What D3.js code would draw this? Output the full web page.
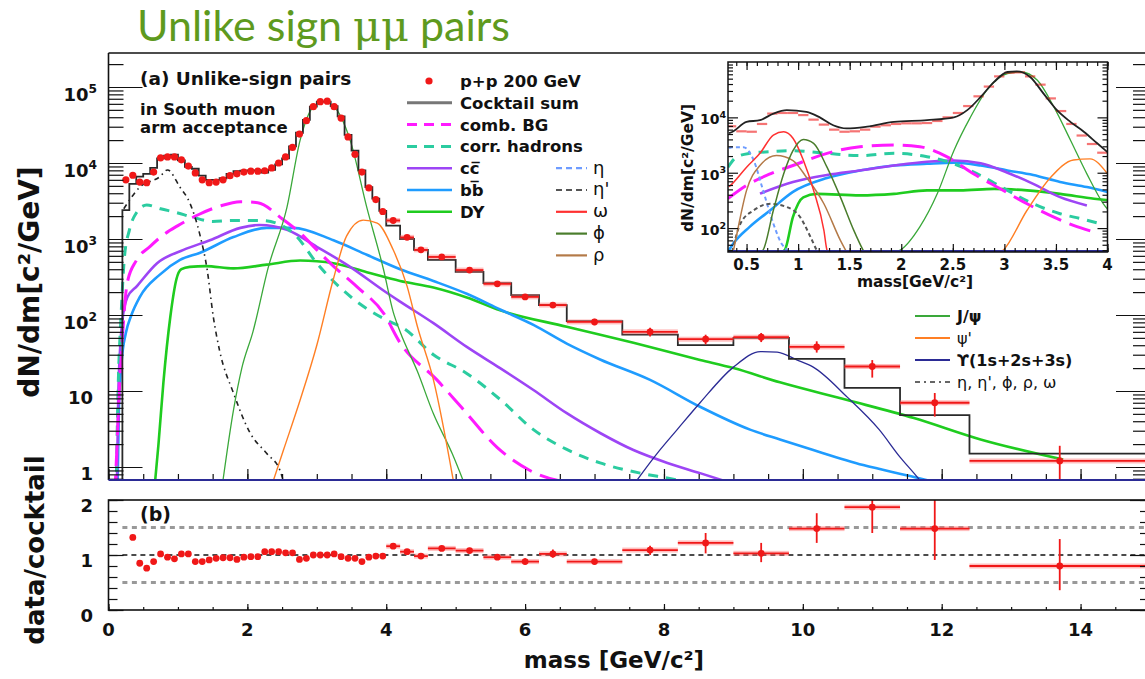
<!DOCTYPE html>
<html>
<head>
  <meta charset="utf-8">
  <script src="https://d3js.org/d3.v7.min.js"></script>
  <title>Unlike sign pairs</title>
  <style>
    body { margin: 0; background: #fff; }
    svg text { font-family: "DejaVu Sans", sans-serif; font-weight: bold; fill: #111; }
    .title { font-family: Lato, "Open Sans", sans-serif; font-weight: normal; fill: #5e9a1e; }
    .thin { font-weight: normal; }
  </style>
</head>
<body>
<div id="plot"></div>
<script type="text/javascript">

// ---------- data ----------

// p+p 200 GeV, fine 0.1 GeV bins
var fineMass = [0.25,0.35,0.45,0.55,0.65,0.75,0.85,0.95,1.05,1.15,1.25,1.35,1.45,1.55,1.65,1.75,1.85,1.95,
  2.05,2.15,2.25,2.35,2.45,2.55,2.65,2.75,2.85,2.95,3.05,3.15,3.25,3.35,3.45,3.55,3.65,3.75,3.85,3.95];
var fineYield = [6000,6900,5600,5500,7600,11700,12000,12000,11000,9100,7400,6000,5500,5600,6000,6800,7200,7600,
  7800,7800,7900,8600,10000,12000,16000,24000,36000,55000,64000,65000,55000,39000,22000,13000,7600,4700,3300,2300];

// p+p 200 GeV, wide bins
var wideLo = [4.0,4.2,4.4,4.6,5.0,5.4,5.8,6.2,6.6,7.4,8.2,9.0,9.8,10.6,11.4,12.4];
var wideHi = [4.2,4.4,4.6,5.0,5.4,5.8,6.2,6.6,7.4,8.2,9.0,9.8,10.6,11.4,12.4,15.0];
var wideMass = [4.1,4.3,4.5,4.8,5.2,5.6,6.0,6.4,7.0,7.8,8.6,9.4,10.2,11.0,11.9,13.7];
var wideYield = [1750,1050,720,580,390,257,173,135,81,60,48,51,38,21,7,1.2];
var wideDown = [1680,1000,690,555,370,243,162,125,73,52,41,44,32,15,4.6,0.5];
var wideUp = [1820,1100,750,605,410,271,184,146,89,68,55,58,45,25.5,9.4,1.9];

// cocktail sum histogram
var histEdges = [0.2,0.3,0.4,0.5,0.6,0.7,0.8,0.9,1.0,1.1,1.2,1.3,1.4,1.5,1.6,1.7,1.8,1.9,2.0,2.1,2.2,2.3,2.4,2.5,
  2.6,2.7,2.8,2.9,3.0,3.1,3.2,3.3,3.4,3.5,3.6,3.7,3.8,3.9,4.0,
  4.2,4.4,4.6,5.0,5.4,5.8,6.2,6.6,7.4,8.2,9.0,9.8,10.6,11.4,12.4,15.0];
var histValue = [2400,5300,6600,7200,8600,11500,12500,12900,10800,8900,8400,6800,6000,6000,6300,7200,7800,7900,
  8000,8000,7500,8100,9600,11500,16500,25000,37000,55000,64000,64000,56000,41000,23500,14500,8000,4800,3400,2350,
  1500,1000,720,530,370,263,182,135,83,55,40,50,26.5,11,4.8,1.5];

// data / cocktail
var ratioFine = [1.32,0.85,0.76,0.88,1.02,0.96,0.93,1.02,1.02,0.88,0.88,0.91,0.94,0.95,0.95,0.92,0.96,0.97,0.97,
  1.06,1.06,1.06,1.04,1.04,0.92,0.94,1.0,1.0,1.0,1.02,0.97,0.94,0.94,0.88,0.96,0.98,0.98];
var ratioWide = [1.16,1.06,0.98,1.12,1.08,0.96,0.88,1.02,0.88,1.09,1.22,1.03,1.48,1.87,1.48,0.80];
var ratioWideDown = [1.13,1.03,0.94,1.08,1.03,0.91,0.83,0.95,0.83,1.0,1.03,0.87,1.22,1.4,0.91,0.36];
var ratioWideUp = [1.19,1.09,1.02,1.16,1.13,1.01,0.94,1.1,0.93,1.17,1.4,1.22,1.76,2.1,2.1,1.29];

// cocktail components, [mass, dN/dm]
var combBG = [[0.09,0.4],[0.12,1.7],[0.16,12],[0.2,50],[0.27,265],[0.4,520],[0.6,800],[0.8,1150],[1.0,1500],
  [1.3,2100],[1.6,2700],[1.9,3100],[2.15,3000],[2.5,1850],[2.76,1200],[3.0,720],[3.25,430],[3.58,234],[3.96,106],
  [4.2,43],[4.73,14],[5.09,6],[5.6,1.8],[6.07,0.9],[6.7,0.6]];
var corrHadrons = [[0.11,0.5],[0.14,12],[0.18,94],[0.23,580],[0.3,1300],[0.4,2200],[0.55,2800],[0.75,2500],
  [1.0,2200],[1.2,1950],[1.5,1700],[1.8,1750],[2.2,1750],[2.5,1500],[2.7,1100],[3.0,480],[3.5,170],[4.0,86],
  [4.25,67],[4.68,30],[5.16,17],[5.65,7.6],[6.12,3.1],[6.6,1.7],[7.08,1.13],[7.66,0.83],[8.1,0.7],[8.45,0.6]];
var charm = [[0.12,0.5],[0.14,8],[0.17,40],[0.2,85],[0.27,170],[0.41,240],[0.7,480],[1.08,720],[1.46,960],
  [1.9,1400],[2.18,1530],[2.57,1320],[3.0,790],[3.48,430],[3.96,210],[4.2,150],[4.68,78],[5.16,38],[5.64,20],
  [6.12,10.3],[6.6,5.1],[7.08,2.8],[7.56,1.67],[8.05,1.13],[8.52,0.83],[9.0,0.6]];
var beauty = [[0.13,0.5],[0.15,6],[0.19,25],[0.25,58],[0.33,100],[0.45,172],[0.74,340],[1.03,530],[1.32,660],
  [1.8,1060],[2.28,1400],[2.66,1400],[3.24,960],[3.72,620],[4.2,400],[4.68,280],[5.16,190],[5.64,118],[6.12,74],
  [6.6,42],[7.08,26],[7.8,14],[8.52,6.2],[9.24,3.1],[9.67,2.3],[10.15,1.67],[10.87,1.06],[11.6,0.74],[12.0,0.6]];
var drellYan = [[0.66,0.5],[0.72,2],[0.79,12.7],[0.89,94],[0.98,300],[1.05,400],[1.17,430],[1.4,440],[1.8,410],
  [2.28,460],[2.76,520],[3.0,510],[3.24,480],[3.72,365],[4.2,280],[4.68,230],[5.16,170],[5.64,115],[6.6,70],
  [7.56,43],[8.52,25.6],[9.0,20],[9.67,13],[10.64,7.6],[11.6,4.4],[12.56,2.3],[13.75,1.25]];
var jpsi = [[1.63,0.5],[1.8,5.6],[1.92,20],[2.08,60],[2.3,420],[2.57,2600],[2.76,20000],[2.95,55000],[3.1,64000],
  [3.25,55000],[3.48,20000],[3.72,2600],[3.96,400],[4.1,110],[4.2,60],[4.45,18],[4.68,5],[4.95,1.5],[5.16,0.5]];
var psiPrime = [[2.33,0.5],[2.52,1.67],[2.76,7.6],[3.0,40],[3.24,300],[3.43,1100],[3.67,1770],[3.87,1620],
  [4.1,720],[4.3,240],[4.45,70],[4.68,14],[4.99,0.5]];
var upsilon = [[7.51,0.5],[7.9,1.5],[8.19,3.1],[8.52,7],[9.0,20.6],[9.39,33],[9.63,32.5],[9.92,25.5],
  [10.15,20.6],[10.64,8.3],[11.1,3.1],[11.4,1.35],[11.6,0.83],[11.8,0.5]];
var lightMesons = [[0.22,2500],[0.45,4800],[0.74,6600],[0.85,8100],[1.03,4800],[1.17,3000],[1.32,1100],
  [1.42,400],[1.51,94],[1.6,34],[1.8,9.4],[2.04,2.8],[2.28,1.5],[2.47,0.9],[2.55,0.5]];

// inset, 0.3 - 4 GeV
var insetSum = [[0.33,5200],[0.36,5450],[0.5,8300],[0.63,8900],[0.76,11700],[0.89,13500],[1.08,12600],
  [1.21,10000],[1.34,7200],[1.47,6300],[1.67,6800],[1.93,8300],[2.25,8900],[2.51,10000],[2.64,13500],
  [2.77,23400],[2.9,43600],[3.03,66000],[3.12,67600],[3.25,53700],[3.38,26900],[3.51,13500],[3.64,8300],
  [3.77,5500],[3.9,3400],[4.0,2350]];
var insetComb = [[0.32,340],[0.5,590],[0.73,955],[0.95,1350],[1.28,2240],[1.6,2950],[1.93,3160],[2.18,2950],
  [2.44,1950],[2.7,955],[2.96,513],[3.22,275],[3.48,158],[3.67,112],[3.87,85]];
var insetCorr = [[0.32,1260],[0.4,1900],[0.53,2240],[0.73,2400],[0.95,2500],[1.28,2240],[1.6,2040],[1.93,2240],
  [2.25,1950],[2.51,1450],[2.77,890],[3.03,480],[3.28,275],[3.54,182],[3.74,148],[3.93,120]];
var insetCharm = [[0.63,420],[0.95,680],[1.28,910],[1.6,1100],[1.93,1350],[2.25,1580],[2.51,1660],[2.77,1480],
  [3.03,1000],[3.28,630],[3.54,363],[3.8,257]];
var insetBeauty = [[0.33,40],[0.37,52],[0.53,105],[0.73,210],[0.95,450],[1.28,800],[1.6,1100],[1.93,1350],
  [2.25,1450],[2.51,1510],[2.77,1350],[3.03,1100],[3.28,910],[3.54,680],[3.8,550],[4.0,450]];
var insetDY = [[0.84,37],[0.87,40],[0.95,160],[1.05,360],[1.18,415],[1.6,390],[1.93,415],[2.25,480],[2.57,480],
  [2.9,510],[3.22,480],[3.54,415],[3.87,340],[4.0,320]];
var insetJpsi = [[1.95,37],[1.99,40],[2.18,105],[2.35,420],[2.51,2500],[2.67,10000],[2.83,31000],[3.03,62000],
  [3.16,66000],[3.32,46800],[3.48,15500],[3.64,3900],[3.8,955],[3.96,275],[4.0,220]];
var insetPsi2 = [[2.97,37],[2.99,40],[3.22,210],[3.45,830],[3.67,1700],[3.83,1780],[4.0,955]];
var insetEta = [[0.33,2800],[0.36,2900],[0.47,2900],[0.57,1660],[0.66,480],[0.76,120],[0.84,52],[0.89,40],[0.9,37]];
var insetEtaP = [[0.36,37],[0.44,120],[0.57,210],[0.73,275],[0.89,240],[1.02,158],[1.12,69],[1.18,40],[1.19,37]];
var insetOmega = [[0.33,560],[0.36,630],[0.5,1260],[0.63,2240],[0.76,4800],[0.86,5500],[0.95,4200],[1.05,1700],
  [1.15,480],[1.25,91],[1.28,40],[1.29,37]];
var insetRho = [[0.37,37],[0.4,69],[0.5,480],[0.63,1350],[0.79,2040],[0.95,1660],[1.08,830],[1.25,275],[1.41,60],
  [1.46,40],[1.47,37]];
var insetPhi = [[0.64,37],[0.66,40],[0.76,210],[0.86,955],[0.95,2500],[1.05,4000],[1.15,3400],[1.28,1260],
  [1.41,363],[1.54,91],[1.63,40],[1.64,37]];

// legend texts
var legendLeft = ['p+p 200 GeV', 'Cocktail sum', 'comb. BG', 'corr. hadrons', 'cc\u0305', 'bb\u0305', 'DY'];
var legendRight = ['\u03b7', '\u03b7\'', '\u03c9', '\u03d5', '\u03c1'];
var legendLow = ['J/\u03c8', '\u03c8\'', '\u03d2(1s+2s+3s)', '\u03b7, \u03b7\', \u03d5, \u03c1, \u03c9'];

// ---------- styles ----------
var style = {
  sum:    {color: '#2a2a2a', width: 1.8},
  comb:   {color: '#ff1aff', width: 3, dash: '22,9'},
  corr:   {color: '#2bcca0', width: 3, dash: '10,8'},
  charm:  {color: '#9d45f5', width: 2.6},
  beauty: {color: '#1f9cff', width: 2.6},
  dy:     {color: '#1fcc1f', width: 2.6},
  jpsi:   {color: '#3aa83a', width: 1.3},
  psi2:   {color: '#ff7f24', width: 1.4},
  ups:    {color: '#2b2b95', width: 1.3},
  mesons: {color: '#222', width: 1.6, dash: '5,4,1.5,4'},
  eta:    {color: '#6e9cff', width: 2, dash: '4,3'},
  etap:   {color: '#555', width: 2, dash: '4,3'},
  omega:  {color: '#ff3030', width: 1.5},
  phi:    {color: '#4a7d2c', width: 1.5},
  rho:    {color: '#b47a48', width: 1.5}
};
var red = '#f01818';

var W = 1145, H = 679;
var main = {left: 108.5, right: 1150, top: 53, bottom: 480};
var rat = {top: 500, bottom: 610};
var ins = {left: 728, right: 1107.5, top: 62, bottom: 252};

var svg = d3.select('#plot').append('svg')
  .attr('width', W).attr('height', H);
svg.append('rect').attr('width', W).attr('height', H).attr('fill', '#fff');

var x = d3.scaleLinear().domain([0, 15]).range([main.left, main.right]);
var y = d3.scaleLog().domain([0.674, 2.8e5]).range([main.bottom, main.top]);
var yR = d3.scaleLinear().domain([0, 2]).range([rat.bottom, rat.top]);
var xi = d3.scaleLinear().domain([0.32, 4.0]).range([ins.left, ins.right]);
var yi = d3.scaleLog().domain([37, 1e5]).range([ins.bottom, ins.top]);

var defs = svg.append('defs');
function clip(id, x0, y0, x1, y1) {
  defs.append('clipPath').attr('id', id).append('rect')
    .attr('x', x0).attr('y', y0).attr('width', x1 - x0).attr('height', y1 - y0);
}
clip('clipMain', main.left, main.top, main.right, main.bottom);
clip('clipRatio', main.left, rat.top, main.right, rat.bottom);
clip('clipInset', ins.left, ins.top, ins.right, ins.bottom);

function drawCurve(g, pts, xs, ys, st) {
  var line = d3.line()
    .x(function(d){ return xs(d[0]); })
    .y(function(d){ return ys(d[1]); })
    .curve(d3.curveMonotoneX);
  g.append('path').datum(pts)
    .attr('d', line)
    .attr('fill', 'none')
    .attr('stroke', st.color)
    .attr('stroke-width', st.width)
    .attr('stroke-dasharray', st.dash || null);
}

function tickAxis(g, axis) {
  g.call(axis);
  g.select('.domain').remove();
  g.selectAll('text').remove();
  g.selectAll('line').attr('stroke', '#111').attr('stroke-width', 1.2);
}

function logMinor(lo, hi) {
  var out = [];
  for (var e = -1; e <= 5; e++)
    for (var k = 2; k <= 9; k++) {
      var v = k * Math.pow(10, e);
      if (v > lo && v < hi) out.push(v);
    }
  return out;
}

function powLabel(g, xr, yb, exp, size) {
  var t = g.append('text').attr('x', xr).attr('y', yb)
    .attr('text-anchor', 'end').style('font-size', size + 'px');
  t.append('tspan').text('10');
  t.append('tspan').attr('dy', -size * 0.45).style('font-size', (size * 0.68) + 'px').text(exp);
  return t;
}

// ---------- title ----------
var title = svg.append('text').attr('class', 'title')
  .attr('x', 137).attr('y', 41).style('font-size', '43px');
title.append('tspan').text('Unlike sign ');
title.append('tspan').style('font-family', '"DejaVu Serif", serif').text('\u03bc\u03bc');
title.append('tspan').text(' pairs');

// ---------- main panel ----------
var gMain = svg.append('g').attr('clip-path', 'url(#clipMain)');

[[drellYan, style.dy], [beauty, style.beauty], [charm, style.charm], [corrHadrons, style.corr],
 [combBG, style.comb], [lightMesons, style.mesons], [jpsi, style.jpsi], [psiPrime, style.psi2],
 [upsilon, style.ups]].forEach(function(c){ drawCurve(gMain, c[0], x, y, c[1]); });

// cocktail sum step histogram
var hp = d3.path();
hp.moveTo(x(histEdges[0]), main.bottom);
histValue.forEach(function(v, i){
  hp.lineTo(x(histEdges[i]), y(v));
  hp.lineTo(x(histEdges[i + 1]), y(v));
});
gMain.append('path').attr('d', hp.toString())
  .attr('fill', 'none').attr('stroke', style.sum.color).attr('stroke-width', style.sum.width);

// data points
function drawWide(g, ys, val, dn, up) {
  val.forEach(function(v, i){
    g.append('rect')
      .attr('x', x(wideLo[i])).attr('width', x(wideHi[i]) - x(wideLo[i]))
      .attr('y', ys(v) - 2.5).attr('height', 5)
      .attr('fill', '#ff7070').attr('opacity', 0.45);
    g.append('line')
      .attr('x1', x(wideLo[i])).attr('x2', x(wideHi[i]))
      .attr('y1', ys(v)).attr('y2', ys(v))
      .attr('stroke', red).attr('stroke-width', 1.8);
    g.append('line')
      .attr('x1', x(wideMass[i])).attr('x2', x(wideMass[i]))
      .attr('y1', ys(dn[i])).attr('y2', ys(up[i]))
      .attr('stroke', red).attr('stroke-width', 1.8);
    g.append('circle').attr('cx', x(wideMass[i])).attr('cy', ys(v)).attr('r', 3.4).attr('fill', red);
  });
}

gMain.selectAll('.pt').data(fineMass).enter().append('circle')
  .attr('cx', function(d){ return x(d); })
  .attr('cy', function(d, i){ return y(fineYield[i]); })
  .attr('r', 3.6).attr('fill', red);
drawWide(gMain, y, wideYield, wideDown, wideUp);

// main frame and ticks
tickAxis(svg.append('g').attr('transform', 'translate(' + main.left + ',0)'),
  d3.axisLeft(y).tickValues(logMinor(0.674, 2.8e5)).tickSize(-15));
tickAxis(svg.append('g').attr('transform', 'translate(' + main.left + ',0)'),
  d3.axisLeft(y).tickValues([1, 10, 100, 1e3, 1e4, 1e5]).tickSize(-34));
tickAxis(svg.append('g').attr('transform', 'translate(' + main.right + ',0)'),
  d3.axisRight(y).tickValues(logMinor(0.674, 2.8e5)).tickSize(-17));
tickAxis(svg.append('g').attr('transform', 'translate(' + main.right + ',0)'),
  d3.axisRight(y).tickValues([1, 10, 100, 1e3, 1e4, 1e5]).tickSize(-34));
tickAxis(svg.append('g').attr('transform', 'translate(0,' + main.bottom + ')'),
  d3.axisBottom(x).tickValues(d3.range(0, 15.01, 0.5)).tickSize(-6));
tickAxis(svg.append('g').attr('transform', 'translate(0,' + main.bottom + ')'),
  d3.axisBottom(x).tickValues(d3.range(0, 15.01, 2)).tickSize(-11));

svg.append('line').attr('x1', main.left).attr('x2', main.right).attr('y1', main.top).attr('y2', main.top)
  .attr('stroke', '#111').attr('stroke-width', 1.6);
svg.append('line').attr('x1', main.left).attr('x2', main.left).attr('y1', main.top).attr('y2', main.bottom)
  .attr('stroke', '#111').attr('stroke-width', 1.6);
svg.append('line').attr('x1', main.left).attr('x2', main.right).attr('y1', main.bottom).attr('y2', main.bottom)
  .attr('stroke', style.ups.color).attr('stroke-width', 2);

// y tick labels
[1, 10, 100, 1e3, 1e4, 1e5].forEach(function(v){
  var e = Math.round(Math.log10(v));
  if (e < 2) {
    svg.append('text').attr('x', 93).attr('y', y(v) + 13.5).attr('text-anchor', 'end')
      .style('font-size', '18px').text(String(v));
  } else {
    powLabel(svg, 97, y(v) + 14, e, 18);
  }
});

svg.append('text').attr('transform', 'translate(29,282) rotate(-90)')
  .attr('text-anchor', 'middle').attr('dy', '0.35em').style('font-size', '28px')
  .text('dN/dm[c\u00b2/GeV]');

svg.append('text').attr('x', 140).attr('y', 85).style('font-size', '18.5px').text('(a) Unlike-sign pairs');
svg.append('text').attr('x', 140).attr('y', 115).style('font-size', '16.5px').text('in South muon');
svg.append('text').attr('x', 140).attr('y', 133).style('font-size', '16.5px').text('arm acceptance');

// ---------- legends ----------
var legLeftStyles = [null, {color: '#777', width: 3}, style.comb, style.corr, style.charm, style.beauty, style.dy];
var legLeft = svg.selectAll('.legL').data(legendLeft).enter().append('g')
  .attr('transform', function(d, i){ return 'translate(0,' + (81 + i * 21.8) + ')'; });
legLeft.each(function(d, i){
  var g = d3.select(this), st = legLeftStyles[i];
  if (!st) {
    g.append('circle').attr('cx', 429).attr('cy', 0).attr('r', 3.6).attr('fill', red);
  } else {
    g.append('line').attr('x1', 407).attr('x2', 452).attr('y1', 0).attr('y2', 0)
      .attr('stroke', st.color).attr('stroke-width', st.width === 3 && !st.dash ? 3 : Math.max(st.width, 2.6))
      .attr('stroke-dasharray', st.dash ? '10,7' : null);
  }
  g.append('text').attr('x', 460).attr('dy', '0.36em').style('font-size', '16.5px').text(d);
});

var legRightStyles = [style.eta, style.etap, style.omega, style.phi, style.rho];
var legRight = svg.selectAll('.legR').data(legendRight).enter().append('g')
  .attr('transform', function(d, i){ return 'translate(0,' + (168.2 + i * 21.8) + ')'; });
legRight.each(function(d, i){
  var g = d3.select(this), st = legRightStyles[i];
  g.append('line').attr('x1', 556).attr('x2', 587).attr('y1', 0).attr('y2', 0)
    .attr('stroke', st.color).attr('stroke-width', 2.2)
    .attr('stroke-dasharray', st.dash ? '6,4' : null);
  g.append('text').attr('class', 'thin').attr('x', 593).attr('dy', '0.3em')
    .style('font-size', '18px').attr('fill', '#222').text(d);
});

var legLowStyles = [style.jpsi, style.psi2, style.ups, {color: '#666', dash: '5,4,2,4'}];
var legLow = svg.selectAll('.legB').data(legendLow).enter().append('g')
  .attr('transform', function(d, i){ return 'translate(0,' + (316 + i * 22) + ')'; });
legLow.each(function(d, i){
  var g = d3.select(this), st = legLowStyles[i];
  g.append('line').attr('x1', 915).attr('x2', 950).attr('y1', 0).attr('y2', 0)
    .attr('stroke', st.color).attr('stroke-width', 2.2)
    .attr('stroke-dasharray', st.dash || null);
  g.append('text').attr('class', (i === 0 || i === 2) ? null : 'thin')
    .attr('x', 957).attr('dy', '0.36em').style('font-size', '16px').text(d);
});

// ---------- ratio panel ----------
var gRat = svg.append('g').attr('clip-path', 'url(#clipRatio)');
[[1.5, '#999', '5,4.5', 3], [0.5, '#999', '5,4.5', 3], [1, '#111', '5,4', 1.4]].forEach(function(l){
  gRat.append('line').attr('x1', x(0.2)).attr('x2', main.right)
    .attr('y1', yR(l[0])).attr('y2', yR(l[0]))
    .attr('stroke', l[1]).attr('stroke-dasharray', l[2]).attr('stroke-width', l[3]);
});
gRat.selectAll('.rpt').data(ratioFine).enter().append('circle')
  .attr('cx', function(d, i){ return x(fineMass[i + 1]); })
  .attr('cy', function(d){ return yR(d); })
  .attr('r', 3.4).attr('fill', red);
drawWide(gRat, yR, ratioWide, ratioWideDown, ratioWideUp);

svg.append('rect').attr('x', main.left).attr('y', rat.top)
  .attr('width', main.right - main.left).attr('height', rat.bottom - rat.top)
  .attr('fill', 'none').attr('stroke', '#111').attr('stroke-width', 1.6);
tickAxis(svg.append('g').attr('transform', 'translate(' + main.left + ',0)'),
  d3.axisLeft(yR).tickValues(d3.range(0, 2.01, 0.2)).tickSize(-9));
tickAxis(svg.append('g').attr('transform', 'translate(' + main.left + ',0)'),
  d3.axisLeft(yR).tickValues([0, 1, 2]).tickSize(-15));
tickAxis(svg.append('g').attr('transform', 'translate(' + main.right + ',0)'),
  d3.axisRight(yR).tickValues(d3.range(0, 2.01, 0.2)).tickSize(-10));
tickAxis(svg.append('g').attr('transform', 'translate(' + main.right + ',0)'),
  d3.axisRight(yR).tickValues([0, 1, 2]).tickSize(-20));
tickAxis(svg.append('g').attr('transform', 'translate(0,' + rat.bottom + ')'),
  d3.axisBottom(x).tickValues(d3.range(0, 15.01, 0.5)).tickSize(-3));
tickAxis(svg.append('g').attr('transform', 'translate(0,' + rat.bottom + ')'),
  d3.axisBottom(x).tickValues(d3.range(0, 15.01, 2)).tickSize(-6));

[0, 1, 2].forEach(function(v){
  svg.append('text').attr('x', 93).attr('y', yR(v) + 12).attr('text-anchor', 'end')
    .style('font-size', '18px').text(v);
});
d3.range(0, 15, 2).forEach(function(v){
  svg.append('text').attr('x', x(v)).attr('y', 636).attr('text-anchor', 'middle')
    .style('font-size', '18px').text(v);
});
svg.append('text').attr('x', 140).attr('y', 521).style('font-size', '19px').text('(b)');
svg.append('text').attr('transform', 'translate(35,550) rotate(-90)')
  .attr('text-anchor', 'middle').attr('dy', '0.35em').style('font-size', '26px').text('data/cocktail');
svg.append('text').attr('x', 614).attr('y', 668).attr('text-anchor', 'middle')
  .style('font-size', '23px').text('mass [GeV/c\u00b2]');

// ---------- inset ----------
svg.append('rect').attr('x', ins.left).attr('y', ins.top)
  .attr('width', ins.right - ins.left).attr('height', ins.bottom - ins.top).attr('fill', '#fff');
var gIns = svg.append('g').attr('clip-path', 'url(#clipInset)');
[[insetDY, style.dy], [insetBeauty, style.beauty], [insetCharm, style.charm], [insetCorr, style.corr],
 [insetComb, style.comb], [insetEta, style.eta], [insetEtaP, style.etap], [insetRho, style.rho],
 [insetOmega, style.omega], [insetPhi, style.phi], [insetJpsi, style.jpsi], [insetPsi2, style.psi2]]
  .forEach(function(c){ drawCurve(gIns, c[0], xi, yi, c[1]); });
gIns.selectAll('.ipt').data(fineMass).enter().append('line')
  .attr('x1', function(d){ return xi(d - 0.05); })
  .attr('x2', function(d){ return xi(d + 0.05); })
  .attr('y1', function(d, i){ return yi(fineYield[i]); })
  .attr('y2', function(d, i){ return yi(fineYield[i]); })
  .attr('stroke', red).attr('stroke-width', 2.2).attr('opacity', 0.6);
drawCurve(gIns, insetSum, xi, yi, {color: '#222', width: 1.8});
gIns.append('line').attr('x1', ins.left).attr('x2', ins.right).attr('y1', ins.bottom - 1).attr('y2', ins.bottom - 1)
  .attr('stroke', style.ups.color).attr('stroke-width', 2);

svg.append('rect').attr('x', ins.left).attr('y', ins.top)
  .attr('width', ins.right - ins.left).attr('height', ins.bottom - ins.top)
  .attr('fill', 'none').attr('stroke', '#111').attr('stroke-width', 1.5);
var iMinorY = logMinor(37, 1e5), iMajorY = [100, 1e3, 1e4];
var iMinorX = d3.range(0.4, 4.001, 0.1), iMajorX = d3.range(0.5, 4.001, 0.5);
tickAxis(svg.append('g').attr('transform', 'translate(' + ins.left + ',0)'), d3.axisLeft(yi).tickValues(iMinorY).tickSize(-5));
tickAxis(svg.append('g').attr('transform', 'translate(' + ins.left + ',0)'), d3.axisLeft(yi).tickValues(iMajorY).tickSize(-10));
tickAxis(svg.append('g').attr('transform', 'translate(' + ins.right + ',0)'), d3.axisRight(yi).tickValues(iMinorY).tickSize(-5));
tickAxis(svg.append('g').attr('transform', 'translate(' + ins.right + ',0)'), d3.axisRight(yi).tickValues(iMajorY).tickSize(-10));
tickAxis(svg.append('g').attr('transform', 'translate(0,' + ins.bottom + ')'), d3.axisBottom(xi).tickValues(iMinorX).tickSize(-4));
tickAxis(svg.append('g').attr('transform', 'translate(0,' + ins.bottom + ')'), d3.axisBottom(xi).tickValues(iMajorX).tickSize(-8));
tickAxis(svg.append('g').attr('transform', 'translate(0,' + ins.top + ')'), d3.axisTop(xi).tickValues(iMinorX).tickSize(-4));
tickAxis(svg.append('g').attr('transform', 'translate(0,' + ins.top + ')'), d3.axisTop(xi).tickValues(iMajorX).tickSize(-8));

iMajorY.forEach(function(v){
  powLabel(svg, 726, yi(v) + 7, Math.round(Math.log10(v)), 14);
});
iMajorX.forEach(function(v){
  svg.append('text').attr('x', xi(v)).attr('y', 270).attr('text-anchor', 'middle')
    .style('font-size', '15px').text(v);
});
svg.append('text').attr('transform', 'translate(688,168) rotate(-90)')
  .attr('text-anchor', 'middle').attr('dy', '0.35em').style('font-size', '15.5px')
  .text('dN/dm[c\u00b2/GeV]');
svg.append('text').attr('x', 915).attr('y', 287).attr('text-anchor', 'middle')
  .style('font-size', '15.5px').text('mass[GeV/c\u00b2]');

</script>
</body>
</html>
